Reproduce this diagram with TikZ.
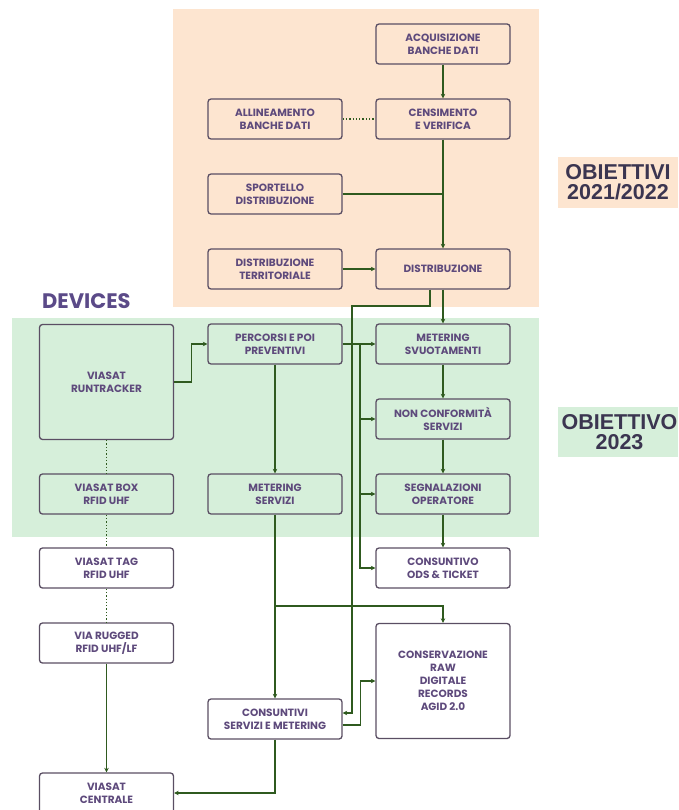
\documentclass[tikz,border=0pt]{standalone}
\usepackage{fontspec}
\usepackage{tikz}
\usetikzlibrary{calc}
\usetikzlibrary{arrows.meta}
\usetikzlibrary{backgrounds}
\newfontfamily\poppins{Poppins}
\newfontfamily\arialfont{Liberation Sans}
\definecolor{peach}{HTML}{FDE5D0}
\definecolor{mint}{HTML}{D6EFDA}
\definecolor{boxline}{HTML}{5A4E63}
\definecolor{boxtext}{HTML}{5E4A7C}
\definecolor{flowgreen}{HTML}{2F5A1F}
\definecolor{devpurple}{HTML}{5B4A88}
\definecolor{goaltext}{HTML}{3B3550}
\tikzset{block/.style={draw=boxline, line width=1.3pt, rounded corners=3pt, minimum width=134pt, minimum height=40pt, inner sep=0pt, align=center, text=boxtext, font=\poppins\bfseries\fontsize{10.5}{13}\selectfont}}
\tikzset{flow/.style={draw=flowgreen, line width=1.2pt, -{Stealth[length=4.5pt,width=4.5pt]}}}
\tikzset{wire/.style={draw=flowgreen, line width=1.2pt}}
\tikzset{dots/.style={draw=flowgreen, line width=1.3pt, dotted}}
\tikzset{goal/.style={text=goaltext, align=center, inner sep=0pt, font=\arialfont\bfseries\fontsize{21.5}{20}\selectfont}}

\begin{document}
\begin{tikzpicture}[x=1pt,y=-1pt]
\useasboundingbox (0,0) rectangle (678,810);

% regions
\fill[peach] (173,9) rectangle (539,307);
\fill[mint] (12,318) rectangle (539,537);
\fill[peach] (558,157) rectangle (678,208);
\fill[mint] (558,407) rectangle (678,457);
\node[goal] (g1) at (618,182.5) {OBIETTIVI\\2021/2022};
\node[goal] (g2) at (619.5,432) {OBIETTIVO\\2023};
\node[text=devpurple, inner sep=0pt, anchor=base west, font=\poppins\bfseries\fontsize{21}{21}\selectfont] (dev) at (42,308) {DEVICES};

% blocks
\node[block] (acq) at (443,44) {ACQUISIZIONE\\BANCHE DATI};
\node[block] (alli) at (275,119) {ALLINEAMENTO\\BANCHE DATI};
\node[block] (cens) at (443,119) {CENSIMENTO\\E VERIFICA};
\node[block] (sport) at (275,194) {SPORTELLO\\DISTRIBUZIONE};
\node[block] (distT) at (275,269) {DISTRIBUZIONE\\TERRITORIALE};
\node[block] (distr) at (443,269) {DISTRIBUZIONE};
\node[block, minimum height=115pt] (runtr) at (106.5,382) {VIASAT\\RUNTRACKER};
\node[block] (perc) at (275,344) {PERCORSI E POI\\PREVENTIVI};
\node[block] (metsv) at (443,344) {METERING\\SVUOTAMENTI};
\node[block] (nonc) at (443,419) {NON CONFORMITÀ\\SERVIZI};
\node[block] (vbox) at (106.5,494) {VIASAT BOX\\RFID UHF};
\node[block] (metser) at (275,494) {METERING\\SERVIZI};
\node[block] (segn) at (443,494) {SEGNALAZIONI\\OPERATORE};
\node[block] (vtag) at (106.5,568) {VIASAT TAG\\RFID UHF};
\node[block] (cons) at (443,568) {CONSUNTIVO\\ODS \& TICKET};
\node[block] (rugg) at (106.5,643) {VIA RUGGED\\RFID UHF/LF};
\node[block, minimum height=115pt] (conserv) at (443,681) {CONSERVAZIONE\\RAW\\DIGITALE\\RECORDS\\AGID 2.0};
\node[block] (consm) at (275,719) {CONSUNTIVI\\SERVIZI E METERING};
\node[block] (centr) at (106.5,793) {VIASAT\\CENTRALE};

\coordinate (busA) at (352,306);
\coordinate (busB) at (360,344);
\coordinate (split) at (275,606);

% connectors
\draw[flow] (acq) -- (cens);
\draw[dots] (alli) -- (cens);
\draw[flow] (cens) -- (distr);
\draw[wire] (sport.east) -- (sport.east -| cens.south);
\draw[flow] (distT) -- (distr);
\draw[flow] (distr.south) -- (metsv.north);
\draw[flow] ([xshift=-13pt]distr.south) |- (busA) |- ([yshift=6pt]consm.east);
\draw[flow] (runtr.east) -- ++(17,0) |- (perc.west);
\draw[flow] (perc) -- (metsv);
\foreach \t in {nonc,segn,cons} {
	\draw[flow] (busB) |- (\t.west);
}
\foreach \a / \b in {metsv/nonc, nonc/segn, segn/cons, perc/metser, metser/consm, rugg/centr} {
	\draw[flow] (\a) -- (\b);
}
\foreach \a / \b in {runtr/vbox, vbox/vtag, vtag/rugg} {
	\draw[dots] (\a) -- (\b);
}
\draw[flow] (split) -| (conserv.north);
\draw[flow] ([yshift=-6pt]consm.east) -- ++(18,0) |- (conserv.west);
\draw[flow] (consm.south) |- (centr.east);

\end{tikzpicture}
\end{document}
